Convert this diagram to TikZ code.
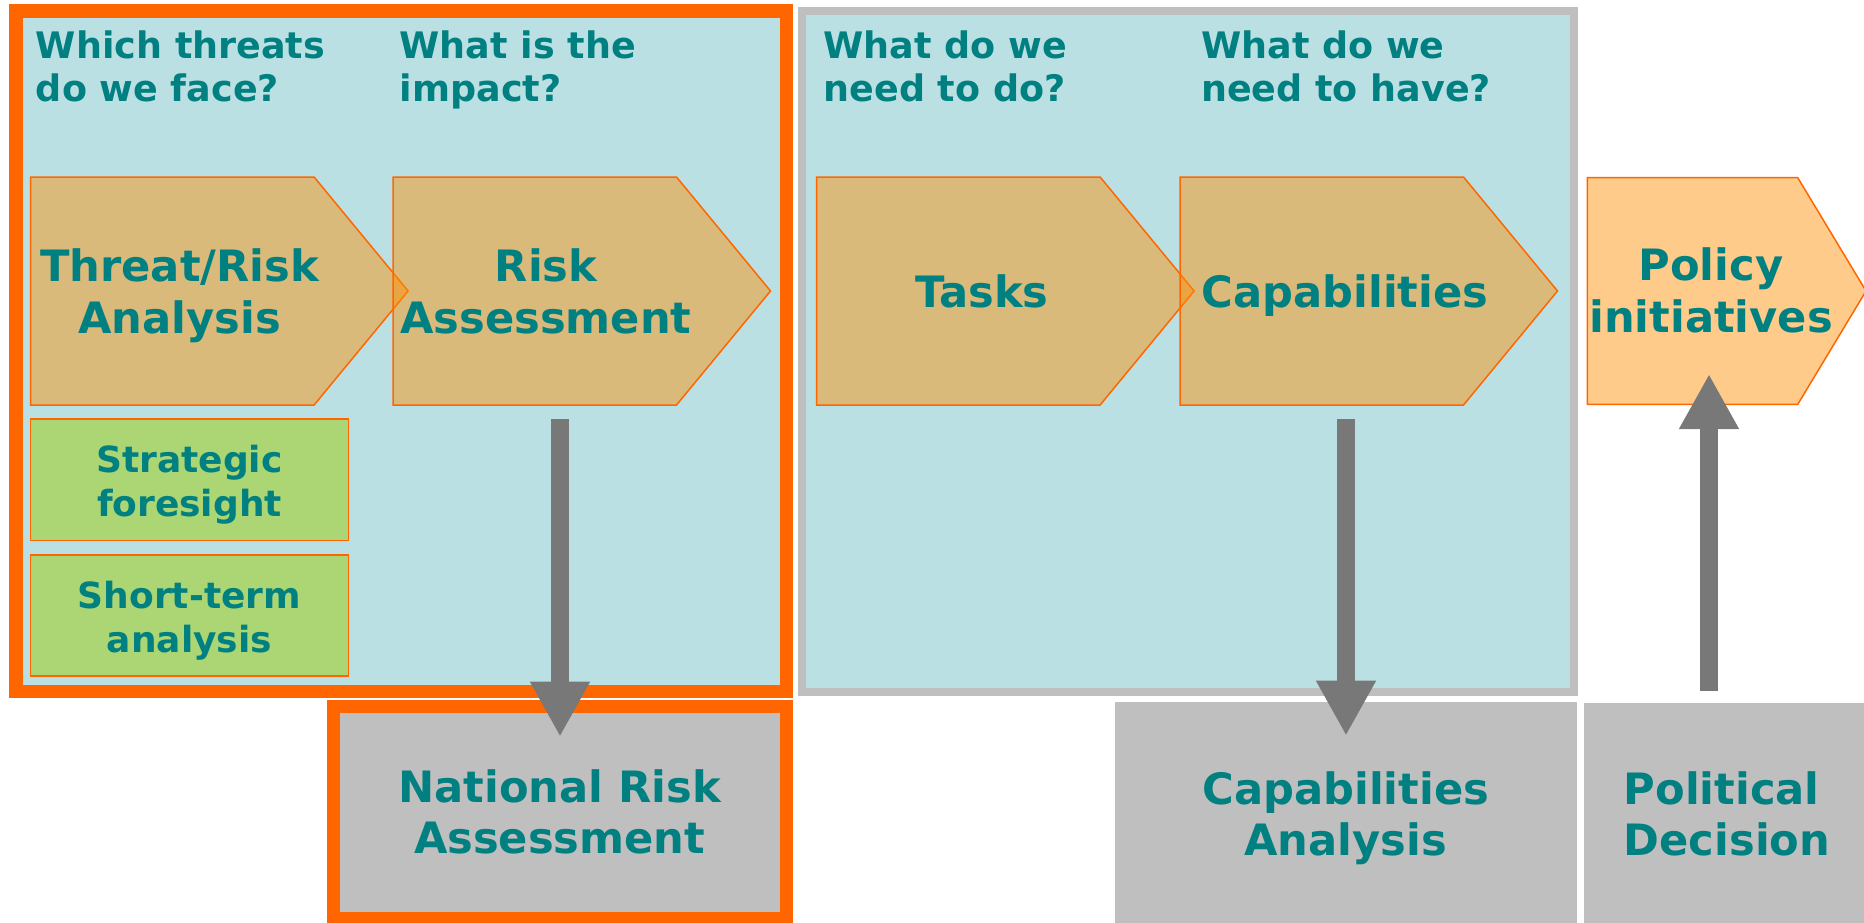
\documentclass[tikz,border=0pt]{standalone}
\usepackage{fontspec}
\setmainfont{DejaVu Sans}
\usetikzlibrary{arrows.meta}
\definecolor{pblue}{HTML}{BBE0E3}
\definecolor{rorange}{HTML}{FF6600}
\definecolor{fgray}{HTML}{BFBFBF}
\definecolor{agray}{HTML}{787878}
\definecolor{tealtxt}{HTML}{008080}
\definecolor{lgreen}{HTML}{ABD673}
\definecolor{chfill}{HTML}{FF8E00}
\tikzset{pnl/.style = {fill=pblue},
    chv/.style = {draw=rorange, line width=1.5pt, fill=chfill, fill opacity=0.46},
    hd/.style  = {anchor=base west, align=left, inner sep=0pt, text=tealtxt,
                  font=\bfseries\fontsize{36.5}{43.4}\selectfont},
    lab/.style = {anchor=base, align=center, inner sep=0pt, text=tealtxt,
                  font=\bfseries\fontsize{43.2}{51.6}\selectfont},
    grn/.style = {rectangle, draw=rorange, line width=1.2pt, fill=lgreen, inner sep=0pt},
    gtx/.style = {anchor=base, align=center, inner sep=0pt, text=tealtxt,
                  font=\bfseries\fontsize{36}{44}\selectfont},
    gbx/.style = {rectangle, fill=fgray, inner sep=0pt, align=center, text=tealtxt,
                  font=\bfseries\fontsize{43.2}{51}\selectfont},
    arr/.style = {draw=agray, line width=18pt, -{Triangle[width=56pt,length=55pt]}}}

\begin{document}
\begin{tikzpicture}[x=1pt, y=-1pt]
    \useasboundingbox (0,0) rectangle (1864,922);
    % panels
    \draw[pnl, draw=rorange, line width=13.5pt] (15.75,10.75) rectangle (786.25,691.25);
    \draw[pnl, draw=fgray, line width=8pt] (802,11) rectangle (1574,692);

    % chevrons
    \foreach \l in {30.6, 393, 816.6, 1180}
        \draw[chv] (\l,177) -- ++(283.5,0) -- ++(94,114) -- ++(-94,114) -- ++(-283.5,0) -- cycle;
    \draw[chv] (1587.3,177.6) -- (1797.7,177.6) -- (1866,291) -- (1797.7,404.4) -- (1587.3,404.4) -- cycle;

    % questions
    \node[hd] (q1) at (35.7,101.7) {Which threats\\do we face?};
    \node[hd] (q2) at (399.5,101.7) {What is the\\impact?};
    \node[hd] (q3) at (823.4,101.7) {What do we\\need to do?};
    \node[hd] (q4) at (1201,101.7) {What do we\\need to have?};

    \node[lab] (thr) at (179.5,333.3) {Threat/Risk\\Analysis};
    \node[lab] (ra) at (546,333.3) {Risk\\Assessment};
    \node[lab] (tsk) at (982,307) {Tasks};
    \node[lab] (cap) at (1345,307) {Capabilities};
    \node[lab] (pol) at (1711,332) {Policy\\initiatives};

    \node[grn, minimum width=318pt, minimum height=121.7pt] (sf) at (189.55,479.85) {};
    \node[grn, minimum width=318pt, minimum height=121pt] (st) at (189.55,615.5) {};
    \node[gtx] (sft) at (189.5,516.7) {Strategic\\foresight};
    \node[gtx] (stt) at (189.5,652) {Short-term\\analysis};

    \node[gbx, draw=rorange, line width=13pt, minimum width=453.5pt, minimum height=211.5pt] (nra) at (559.75,812.25) {National Risk\\Assessment};
    \node[gbx, minimum width=461.5pt, minimum height=232pt] (caa) at (1345.75,818) {Capabilities\\Analysis};
    \node[gbx, align=left, minimum width=286pt, minimum height=222pt] (pd) at (1727,814) {Political\\Decision};

    % arrows
    \coordinate (a1) at (560,419);
    \coordinate (a2) at (1346,419);
    \coordinate (a3) at (1709,374);
    \draw[arr] (a1) -- ([yshift=-36.7pt]a1 |- nra.north);
    \draw[arr] (a2) -- ([yshift=-33.9pt]a2 |- caa.north);
    \draw[arr, shorten <=12pt] (a3 |- pd.north) -- (a3);
\end{tikzpicture}
\end{document}
